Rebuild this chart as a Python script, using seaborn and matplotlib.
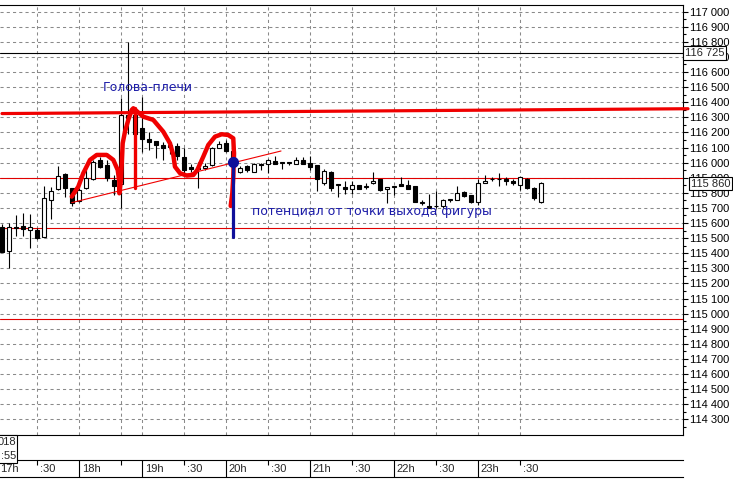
import numpy as np
import pandas as pd
import seaborn as sns
import matplotlib.pyplot as plt
from matplotlib.patches import Rectangle

# M5 candles, bar 0 = first bar at the left edge
opens = [115575, 115415, 115575, 115580, 115555, 115555, 115510, 115750, 115825, 115925,
         115830, 115745, 115830, 115890, 116020, 115985, 115885, 115860, 116315, 116315,
         116230, 116155, 116145, 116120, 116115, 116110, 116040, 115970, 115965, 115965,
         115985, 116095, 116130, 116075, 115940, 115975, 115940, 115990, 115990, 116010,
         116000, 116000, 115990, 116020, 115995, 115985, 115865, 115935, 115855, 115840,
         115825, 115850, 115840, 115865, 115890, 115825, 115840, 115860, 115850, 115845,
         115735, 115710, 115710, 115710, 115755, 115750, 115805, 115785, 115740, 115865,
         115890, 115890, 115890, 115875, 115850, 115890, 115830, 115740]
highs = [115595, 115600, 115655, 115665, 115660, 115565, 115845, 115840, 115980, 115930,
         115835, 115830, 115980, 116020, 116035, 116020, 115920, 116430, 116800, 116360,
         116435, 116200, 116145, 116135, 116115, 116130, 116100, 115990, 116005, 116000,
         116105, 116140, 116150, 116110, 115975, 115985, 116000, 116000, 116025, 116045,
         116000, 116000, 116040, 116040, 116045, 115985, 115955, 115945, 115855, 115875,
         115875, 115850, 115865, 115940, 115890, 115840, 115840, 115905, 115885, 115845,
         115750, 115795, 115810, 115760, 115760, 115845, 115815, 115785, 115890, 115920,
         115905, 115930, 115905, 115890, 115905, 115895, 115840, 115870]
lows = [115405, 115305, 115515, 115515, 115435, 115495, 115505, 115625, 115820, 115770,
        115715, 115740, 115825, 115885, 115965, 115875, 115785, 115700, 116190, 116185,
        116070, 116085, 116030, 116020, 116060, 116020, 115925, 115935, 115830, 115950,
        115975, 116095, 116070, 115950, 115930, 115940, 115935, 115950, 115930, 115990,
        115955, 115985, 115990, 115990, 115950, 115815, 115855, 115810, 115770, 115795,
        115795, 115825, 115825, 115860, 115815, 115730, 115785, 115845, 115825, 115740,
        115720, 115700, 115700, 115700, 115740, 115750, 115775, 115735, 115720, 115865,
        115880, 115845, 115855, 115855, 115820, 115825, 115755, 115735]
closes = [115410, 115575, 115565, 115560, 115575, 115500, 115765, 115810, 115910, 115830,
          115735, 115820, 115900, 116005, 115970, 115895, 115845, 116315, 116295, 116190,
          116155, 116135, 116120, 116100, 116105, 116045, 115950, 115960, 115960, 115975,
          116095, 116125, 116080, 115980, 115965, 115950, 115990, 115985, 116015, 115990,
          116000, 116000, 116020, 115990, 115970, 115890, 115945, 115830, 115855, 115825,
          115850, 115825, 115840, 115880, 115820, 115840, 115840, 115845, 115825, 115740,
          115735, 115700, 115710, 115755, 115755, 115800, 115780, 115740, 115865, 115880,
          115890, 115890, 115880, 115865, 115905, 115830, 115765, 115865]

# time axis
hour_pos = [11, 20, 32, 44, 56, 68]
hour_labels = ["18h", "19h", "20h", "21h", "22h", "23h"]
half_pos = [5, 17, 26, 38, 50, 62, 74]
half_labels = [":30", "", ":30", ":30", ":30", ":30", ":30"]

# price levels drawn on the chart
level_black = 116725
levels_red = [115900, 115570, 114965]
last_price = 115860

# hand drawn head-and-shoulders outline
hs_x = [9.96, 10.9, 11.61, 12.57, 13.53, 14.96, 15.9, 16.53, 16.76, 16.76, 17.0, 17.24,
        17.57, 18.04, 18.53, 18.76, 20.19, 21.61, 23.04, 24.0, 24.47, 24.71, 25.43, 26.39,
        27.33, 27.9, 28.76, 29.47, 30.43, 31.39, 32.33, 33.04, 33.14, 33.04, 32.9, 32.67]
hs_y = [115775, 115841, 115930, 116018, 116051, 116051, 116018, 115951, 115874, 115797,
        115885, 116128, 116205, 116283, 116349, 116360, 116304, 116283, 116205, 116128,
        116051, 115973, 115930, 115914, 115918, 115951, 116040, 116117, 116172, 116188,
        116183, 116161, 116062, 115907, 115797, 115713]
top_x = [0.0, 98.0]
top_y = [116325, 116357]
neck_x = [9.96, 39.86]
neck_y = [115735, 116077]
head_x = [19.0, 19.0]
head_y = [116360, 115830]
target_x = [33.0, 33.0]
target_y = [116006, 115510]

W, H = 733, 492
sns.set_theme(style="white")
plt.rcParams["font.family"] = ["DejaVu Sans"]
axis_font = ["Liberation Sans", "DejaVu Sans"]

fig = plt.figure(figsize=(W / 100, H / 100), dpi=100)
fig.patch.set_facecolor("white")
ax = fig.add_axes([0, 1 - 435 / H, 683 / W, 430 / H])
ax.set_facecolor("white")

df = pd.DataFrame({"open": opens, "high": highs, "low": lows, "close": closes})
df["bar"] = np.arange(len(df))
up = df["close"] >= df["open"]
body_lo = np.minimum(df["open"], df["close"])
body_h = np.maximum((df["close"] - df["open"]).abs(), 2)

ax.vlines(df["bar"], df["low"], df["high"], color="black", lw=0.8, zorder=3)
ax.bar(df["bar"][up], body_h[up], bottom=body_lo[up], width=0.62,
       color="white", edgecolor="black", linewidth=0.8, zorder=4)
ax.bar(df["bar"][~up], body_h[~up], bottom=body_lo[~up], width=0.62,
       color="black", edgecolor="black", linewidth=0.8, zorder=4)

ax.axhline(level_black, color="black", lw=0.8, zorder=2)
for lv in levels_red:
    ax.axhline(lv, color="#e00000", lw=0.8, zorder=2)

red = "#f00000"
blue = "#10109a"
ax.plot(top_x, top_y, color=red, lw=2.3, clip_on=False, zorder=6)
ax.plot(neck_x, neck_y, color=red, lw=0.8, zorder=6)
sns.lineplot(x=hs_x, y=hs_y, sort=False, estimator=None, color=red, lw=3.2,
             ax=ax, zorder=7)
ax.plot(head_x, head_y, color=red, lw=2.4, zorder=7)
ax.plot(target_x, target_y, color=blue, lw=2.3, zorder=8)
ax.plot(target_x[0], target_y[0], "o", color=blue, ms=7, zorder=9)

ax.text(14.43, 116495, "Голова-плечи", color="#1c1ca8", fontsize=9,
        ha="left", va="center", zorder=9)
ax.text(35.7, 115673, "потенциал от точки выхода фигуры", color="#1c1ca8",
        fontsize=9, ha="left", va="center", zorder=9)

ax.set_xlim(-2 / 7, 681 / 7)
ax.set_ylim(114196, 117044)

# grid + price axis
ax.set_xticks(sorted(hour_pos + half_pos))
ax.tick_params(axis="x", bottom=False, labelbottom=False)
yt = list(range(114300, 117001, 100))
ax.set_yticks(yt)
ax.set_yticklabels([f"{v:,}".replace(",", " ") for v in yt])
ax.set_yticks(list(range(114250, 117001, 100)), minor=True)
ax.yaxis.tick_right()
ax.tick_params(axis="y", which="major", left=False, right=True, labelleft=False,
               labelright=True, length=3.6, width=0.8, pad=1.6, labelsize=8,
               color="black", labelcolor="black")
ax.tick_params(axis="y", which="minor", left=False, right=True, length=2,
               width=0.8, color="black")
for lab in ax.get_yticklabels():
    lab.set_family(axis_font)
ax.grid(True, which="major", color="#8a8a8a", linestyle=(0, (3, 3)), lw=0.75)
ax.set_axisbelow(True)
for side in ["top", "right", "bottom"]:
    ax.spines[side].set_color("black")
    ax.spines[side].set_linewidth(0.8)
ax.spines["left"].set_visible(False)

ytr = ax.get_yaxis_transform()
box = dict(boxstyle="square,pad=0.15", fc="white", ec="black", lw=0.8)
ax.text(1.003, level_black, "116 725", transform=ytr, ha="left", va="center",
        fontsize=8, family=axis_font, bbox=box, clip_on=False, zorder=10)
ax.text(1.0115, last_price, "115 860", transform=ytr, ha="left", va="center",
        fontsize=8, family=axis_font, bbox=box, clip_on=False, zorder=10)

# time band
tax = fig.add_axes([0, 1 - 477 / H, 683 / W, 17 / H], sharex=ax)
tax.set_facecolor("white")
tax.set_ylim(0, 1)
tax.tick_params(axis="both", bottom=False, labelbottom=False, left=False,
                labelleft=False)
tax.grid(False)
for side in ["left", "right"]:
    tax.spines[side].set_visible(False)
for side in ["top", "bottom"]:
    tax.spines[side].set_color("black")
    tax.spines[side].set_linewidth(0.8)
tax.vlines(hour_pos, 0, 1, color="black", lw=0.8)
tax.vlines(half_pos, 0.7, 1, color="black", lw=0.8)
for p, lab in zip(hour_pos + half_pos, hour_labels + half_labels):
    tax.text(p + 0.4, 0.45, lab, ha="left", va="center", fontsize=8, family=axis_font)
tax.text(0.0, 0.45, "17h", transform=tax.transAxes, ha="left", va="center",
         fontsize=8, family=axis_font)

# cut-off date tooltip at bottom left
fig.add_artist(Rectangle((-5 / W, 1 - 463 / H), 22 / W, 28 / H,
                         transform=fig.transFigure, fill=True, fc="white",
                         ec="black", lw=0.8))
fig.text(16 / W, 1 - 442 / H, "018", ha="right", va="center", fontsize=8, family=axis_font)
fig.text(16 / W, 1 - 456 / H, ":55", ha="right", va="center", fontsize=8, family=axis_font)

fig.savefig("out.png", dpi=100, facecolor="white")
